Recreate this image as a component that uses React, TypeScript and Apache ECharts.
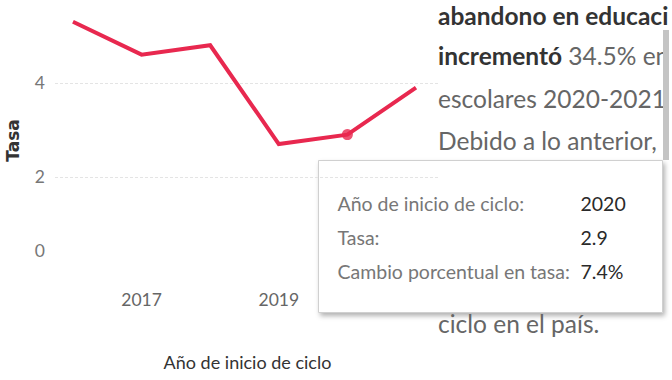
import React, { useEffect, useRef } from "react";
import * as echarts from "echarts";

const years = [2016, 2017, 2018, 2019, 2020, 2021];
const tasa = [5.3, 4.6, 4.8, 2.7, 2.9, 3.9];
const xTickLabels = [2017, 2019];
const selectedIndex = 4;
const xAxisTitle = "Año de inicio de ciclo";
const yAxisTitle = "Tasa";
const tooltipLabels = ["Año de inicio de ciclo:", "Tasa:", "Cambio porcentual en tasa:"];
const panelLines = [
  "{b|abandono en educaci}",
  "{b|incrementó} 34.5% en",
  "escolares 2020-2021",
  "Debido a lo anterior,",
  "ciclo en el país.",
];
const panelLineY = [18, 58, 101, 143, 326];

const FONT = "Lato, 'Noto Sans', sans-serif";

export default function App() {
  const ref = useRef<HTMLDivElement>(null);
  useEffect(() => {
    if (!ref.current) return;
    const chart = echarts.init(ref.current, undefined, { renderer: "svg" });
    const selYear = years[selectedIndex];
    const selVal = tasa[selectedIndex];
    const change = ((tasa[selectedIndex] - tasa[selectedIndex - 1]) / tasa[selectedIndex - 1]) * 100;
    const tooltipValues = [String(selYear), selVal.toFixed(1), change.toFixed(1) + "%"];

    const panel = panelLines.map((t, i) => ({
      type: "text",
      left: 438,
      top: panelLineY[i] - 15,
      z: 10,
      style: {
        text: t,
        fill: "#666",
        font: `24.5px ${FONT}`,
        width: 232,
        overflow: "truncate",
        ellipsis: "",
        rich: { b: { fill: "#333", fontWeight: "bold", fontSize: 24.5, fontFamily: FONT } },
      },
    }));

    const scrollbar = {
      type: "rect",
      z: 20,
      shape: { x: 663, y: 30, width: 6, height: 130 },
      style: { fill: "#c4c4c4" },
    };

    const tip = {
      type: "group",
      left: 318,
      top: 160,
      z: 100,
      children: [
        {
          type: "rect",
          shape: { x: 0, y: 0, width: 344, height: 152 },
          style: {
            fill: "#fff",
            stroke: "#d0d0d0",
            lineWidth: 1,
            shadowBlur: 5,
            shadowOffsetX: 2,
            shadowOffsetY: 3,
            shadowColor: "rgba(0,0,0,0.3)",
          },
        },
        ...tooltipLabels.map((t, i) => ({
          type: "text",
          x: 19,
          y: 43 + i * 34,
          style: { text: t, fill: "#777", font: `19.5px ${FONT}`, verticalAlign: "middle" },
        })),
        ...tooltipValues.map((t, i) => ({
          type: "text",
          x: 262,
          y: 43 + i * 34,
          style: { text: t, fill: "#2a2a2a", font: `19.5px ${FONT}`, verticalAlign: "middle" },
        })),
      ],
    };

    chart.setOption({
      animation: false,
      backgroundColor: "#fff",
      grid: { left: 55, right: 232, top: 10, bottom: 109, outerBoundsMode: "none", containLabel: false },
      xAxis: {
        type: "value",
        min: 2015.738,
        max: 2021.35,
        name: xAxisTitle,
        nameLocation: "middle",
        nameGap: 82,
        nameTextStyle: { color: "#333", fontSize: 18, fontFamily: FONT },
        axisLine: { show: false },
        axisTick: { show: false },
        splitLine: { show: false },
        axisLabel: {
          customValues: xTickLabels,
          margin: 19,
          color: "#666",
          fontSize: 17.5,
          fontFamily: FONT,
          formatter: (v: number) => String(v),
        },
      },
      yAxis: {
        type: "value",
        min: 0,
        max: 5.55,
        interval: 2,
        name: yAxisTitle,
        nameLocation: "middle",
        nameGap: 34,
        nameTextStyle: { color: "#333", fontSize: 17, fontFamily: "'DejaVu Sans', sans-serif", fontWeight: "bold" },
        axisLine: { show: false },
        axisTick: { show: false },
        splitLine: {
          show: true,
          showMinLine: false,
          showMaxLine: false,
          lineStyle: { color: "#e4e4e4", type: [3, 2], width: 1 },
        },
        axisLabel: {
          showMaxLabel: false,
          margin: 10,
          color: "#777",
          fontSize: 17.5,
          fontFamily: FONT,
          formatter: (v: number) => (v === 0 ? "{z|0}" : String(v)),
          rich: { z: { padding: [0, 0, 42, 0], color: "#777", fontSize: 17.5, fontFamily: FONT } },
        },
      },
      series: [
        {
          type: "line",
          data: years.map((y, i) => [y, tasa[i]]),
          showSymbol: false,
          symbol: "none",
          lineStyle: { color: "#E8284F", width: 4, join: "miter" },
          z: 3,
        },
        {
          type: "scatter",
          data: [[years[selectedIndex], tasa[selectedIndex]]],
          symbolSize: 11,
          itemStyle: { color: "#E8284F" },
          z: 4,
        },
      ],
      graphic: [...panel, scrollbar, tip],
    });
    return () => chart.dispose();
  }, []);
  return <div ref={ref} style={{ width: 672, height: 380, position: "absolute", left: 0, top: 0 }} />;
}
